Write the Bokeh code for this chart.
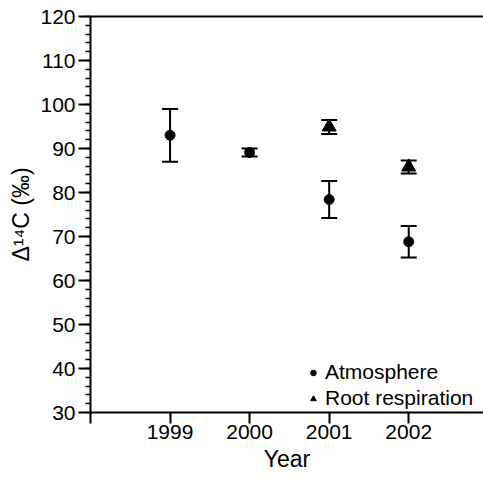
from bokeh.plotting import figure
from bokeh.models import (ColumnDataSource, Range1d, FixedTicker, Whisker, TeeHead,
                          Legend, LegendItem, LinearAxis)
from bokeh.embed import file_html
from bokeh.resources import INLINE

# data
atm_years = [1999, 2000, 2001, 2002]
atm_values = [93.0, 89.1, 78.4, 68.8]
atm_err = [6.0, 0.9, 4.2, 3.6]

root_years = [2001, 2002]
root_values = [94.9, 85.8]
root_err = [1.6, 1.5]

x_ticks = [1998, 1999, 2000, 2001, 2002]
x_tick_labels = ["", "1999", "2000", "2001", "2002"]
y_ticks = [30, 40, 50, 60, 70, 80, 90, 100, 110, 120]

FONT = "Liberation Sans"

p = figure(frame_width=393, frame_height=396, output_backend="svg", toolbar_location=None,
           x_range=Range1d(1998, 2002.94), y_range=Range1d(30, 120),
           min_border_left=90, min_border_right=0, min_border_top=16, min_border_bottom=66)
p.outline_line_color = None
p.grid.visible = False
p.background_fill_color = "white"

atm = ColumnDataSource(dict(x=atm_years, y=atm_values,
                            lo=[v - e for v, e in zip(atm_values, atm_err)],
                            hi=[v + e for v, e in zip(atm_values, atm_err)]))
root = ColumnDataSource(dict(x=root_years, y=root_values,
                             lo=[v - e for v, e in zip(root_values, root_err)],
                             hi=[v + e for v, e in zip(root_values, root_err)]))

for src in (atm, root):
    w = Whisker(source=src, base="x", lower="lo", upper="hi",
                line_color="black", line_width=2,
                upper_head=TeeHead(size=16, line_width=2, line_color="black"),
                lower_head=TeeHead(size=16, line_width=2, line_color="black"))
    p.add_layout(w)

r_atm = p.scatter("x", "y", source=atm, marker="circle", size=10,
                  fill_color="black", line_color="black")
r_root = p.scatter("x", "y", source=root, marker="triangle", size=14,
                   fill_color="black", line_color="black")

# axes
xa = p.below[0]
ya = p.left[0]
xa.ticker = FixedTicker(ticks=x_ticks)
xa.major_label_overrides = {t: l for t, l in zip(x_ticks, x_tick_labels)}
xa.axis_label = "Year"
ya.ticker = FixedTicker(ticks=y_ticks, minor_ticks=list(range(30, 121, 2)))
ya.axis_label = "Δ¹⁴C (‰)"

for ax in (xa, ya):
    ax.axis_line_width = 2
    ax.axis_line_color = "black"
    ax.major_tick_line_width = 2
    ax.major_tick_line_color = "black"
    ax.minor_tick_line_width = 1.5
    ax.minor_tick_line_color = "black"
    ax.major_tick_in = 0
    ax.minor_tick_in = 0
    ax.major_label_text_font = FONT
    ax.major_label_text_font_size = "21px"
    ax.major_label_text_color = "black"
    ax.axis_label_text_font = FONT
    ax.axis_label_text_font_size = "23px"
    ax.axis_label_text_font_style = "normal"
    ax.axis_label_text_color = "black"

xa.major_tick_out = 11
xa.minor_tick_line_color = None
xa.major_label_standoff = 1
xa.axis_label_standoff = 4
ya.major_tick_out = 12
ya.minor_tick_out = 5
ya.major_label_standoff = 3
ya.axis_label_standoff = 3

# top border line (axis without ticks or labels)
top = LinearAxis(ticker=FixedTicker(ticks=[]), axis_line_width=2, axis_line_color="black",
                 major_tick_line_color=None, minor_tick_line_color=None,
                 major_label_standoff=0, major_tick_out=0, major_tick_in=0)
p.add_layout(top, "above")

legend = Legend(items=[LegendItem(label="Atmosphere", renderers=[r_atm]),
                       LegendItem(label="Root respiration", renderers=[r_root])],
                location=(216, 2), background_fill_alpha=0, border_line_color=None,
                label_text_font=FONT, label_text_font_size="21px", label_text_color="black",
                glyph_width=14, glyph_height=21, label_standoff=5, spacing=2,
                padding=0, margin=0, label_height=21)
p.add_layout(legend)

open("out.html", "w").write(file_html(p, INLINE))
